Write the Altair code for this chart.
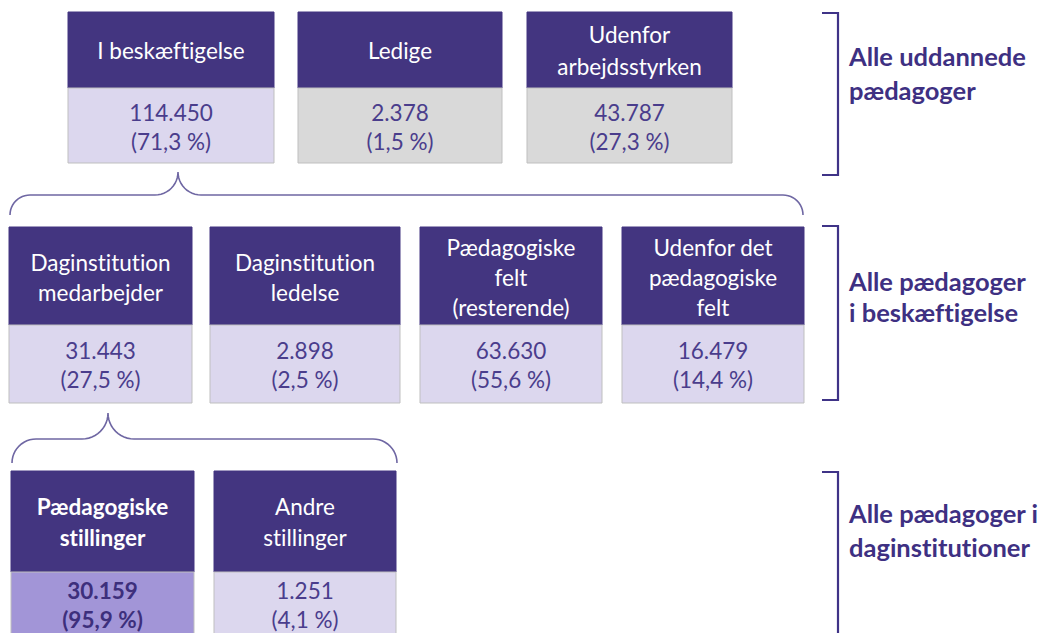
import math
import altair as alt
import pandas as pd

# ---------------- data ----------------
row1_titles = ["I beskæftigelse", "Ledige", "Udenfor\narbejdsstyrken"]
row1_counts = [114450, 2378, 43787]
row1_shares = [71.3, 1.5, 27.3]

row2_titles = ["Daginstitution\nmedarbejder", "Daginstitution\nledelse",
               "Pædagogiske\nfelt\n(resterende)", "Udenfor det\npædagogiske\nfelt"]
row2_counts = [31443, 2898, 63630, 16479]
row2_shares = [27.5, 2.5, 55.6, 14.4]

row3_titles = ["Pædagogiske\nstillinger", "Andre\nstillinger"]
row3_counts = [30159, 1251]
row3_shares = [95.9, 4.1]

group_labels = ["Alle uddannede\npædagoger", "Alle pædagoger\ni beskæftigelse",
                "Alle pædagoger i\ndaginstitutioner"]

# ---------------- style / layout ----------------
HEAD = "#433580"
LIGHT = "#DCD7EE"
GRAY = "#D9D9D9"
STRONG = "#A295D7"
NUMCOL = "#4A3D8C"
BRACE = "#6F67A3"
BRACKET = "#3F3387"
FONT = "Lato"
ZWNJ = "\u200c"

rows = [
    dict(titles=row1_titles, counts=row1_counts, shares=row1_shares,
         xs=[(68, 274), (298, 502), (527, 732)], head=(12, 88), body=(88, 163),
         hc=52, hlh=32, bc=128, blh=29, fills=[LIGHT, GRAY, GRAY], bold=[False] * 3),
    dict(titles=row2_titles, counts=row2_counts, shares=row2_shares,
         xs=[(9, 192), (210, 400), (420, 602), (622, 804)], head=(227, 325), body=(325, 403),
         hc=279, hlh=30, bc=366, blh=29, fills=[LIGHT] * 4, bold=[False] * 4),
    dict(titles=row3_titles, counts=row3_counts, shares=row3_shares,
         xs=[(11, 194), (214, 396)], head=(471, 572), body=(572, 660),
         hc=523, hlh=31, bc=606, blh=29, fills=[STRONG, LIGHT], bold=[True, False]),
]

braces = [  # x0, x1, tip x, end y, mid y, tip y
    (10, 803, 178, 215, 195, 172),
    (12, 397, 108, 463, 439, 413),
]
brackets = [(13, 175), (226, 400), (472, 660)]
label_pos = [(849, 75, 34), (849, 298, 31), (849, 532, 34)]


def fmt_count(n):
    return f"{n:,}".replace(",", ".")


def fmt_share(s):
    return "(" + f"{s:.1f}".replace(".", ",") + " %)"


def no_lig(s):
    # keep letters from being merged into ligatures by the font
    for a, b in (("t", "i"), ("f", "t"), ("f", "i"), ("f", "l")):
        s = s.replace(a + b, a + ZWNJ + b)
    return s


rects, texts = [], []
for r in rows:
    for i, (x0, x1) in enumerate(r["xs"]):
        rects.append(dict(x=x0, x2=x1, y=r["head"][0], y2=r["head"][1], fill=HEAD, stroke=HEAD))
        rects.append(dict(x=x0, x2=x1, y=r["body"][0], y2=r["body"][1], fill=r["fills"][i], stroke="#BFBFBF"))
        cx = (x0 + x1) / 2
        lines = r["titles"][i].split("\n")
        n = len(lines)
        for k, ln in enumerate(lines):
            texts.append(dict(x=cx, y=r["hc"] + (k - (n - 1) / 2) * r["hlh"], text=no_lig(ln),
                              color="#FFFFFF", bold=r["bold"][i], kind="head"))
        body_lines = [fmt_count(r["counts"][i]), fmt_share(r["shares"][i])]
        for k, ln in enumerate(body_lines):
            texts.append(dict(x=cx, y=r["bc"] + (k - 0.5) * r["blh"], text=ln,
                              color="#3D2F7C" if r["bold"][i] else NUMCOL, bold=r["bold"][i], kind="body"))

rect_df = pd.DataFrame(rects)
text_df = pd.DataFrame(texts)

lab = []
for (lx, ly, lh), t in zip(label_pos, group_labels):
    ls = t.split("\n")
    for k, ln in enumerate(ls):
        lab.append(dict(x=lx, y=ly + (k - (len(ls) - 1) / 2) * lh, text=no_lig(ln)))
lab_df = pd.DataFrame(lab)


def arc(cx, cy, r, a0, a1, n=12):
    return [(cx + r * math.cos(a0 + (a1 - a0) * j / n), cy - r * math.sin(a0 + (a1 - a0) * j / n))
            for j in range(n + 1)]


path = []
for bi, (x0, x1, xt, ye, ym, yt) in enumerate(braces):
    r1 = ye - ym
    r2 = ym - yt
    pts = []
    pts += arc(x0 + r1, ye, r1, math.pi, math.pi / 2)
    pts += arc(xt - r2, yt, r2, -math.pi / 2, 0)
    pts += arc(xt + r2, yt, r2, math.pi, 1.5 * math.pi)
    pts += arc(x1 - r1, ye, r1, math.pi / 2, 0)
    for j, (px, py) in enumerate(pts):
        path.append(dict(x=px, y=py, id=f"b{bi}", o=j))
brace_df = pd.DataFrame(path)

bk = []
for bi, (t, b) in enumerate(brackets):
    for j, (px, py) in enumerate([(822, t), (838, t), (838, b), (822, b)]):
        bk.append(dict(x=px, y=py, id=f"k{bi}", o=j))
bk_df = pd.DataFrame(bk)

xs = alt.Scale(domain=[8, 1043], nice=False, zero=False)
ys = alt.Scale(domain=[8, 633], nice=False, zero=False, reverse=True)
X = lambda f="x": alt.X(f"{f}:Q", scale=xs, axis=None)
Y = lambda f="y": alt.Y(f"{f}:Q", scale=ys, axis=None)

boxes = alt.Chart(rect_df).mark_rect(strokeWidth=1, clip=True).encode(
    x=X(), x2="x2:Q", y=Y(), y2="y2:Q",
    fill=alt.Fill("fill:N", scale=None), stroke=alt.Stroke("stroke:N", scale=None))


def text_layer(df, size, bold):
    kw = dict(font=FONT, fontSize=size, baseline="middle", align="center")
    if bold:
        kw["fontWeight"] = "bold"
    return alt.Chart(df).mark_text(**kw).encode(
        x=X(), y=Y(), text="text:N", color=alt.Color("color:N", scale=None))


head_n = text_df[(text_df.kind == "head") & (~text_df.bold)]
head_b = text_df[(text_df.kind == "head") & (text_df.bold)]
body_n = text_df[(text_df.kind == "body") & (~text_df.bold)]
body_b = text_df[(text_df.kind == "body") & (text_df.bold)]

brace_lines = alt.Chart(brace_df).mark_line(color=BRACE, strokeWidth=1.6).encode(
    x=X(), y=Y(), detail="id:N", order="o:Q")
bracket_lines = alt.Chart(bk_df).mark_line(color=BRACKET, strokeWidth=2.2, clip=True).encode(
    x=X(), y=Y(), detail="id:N", order="o:Q")
labels = alt.Chart(lab_df).mark_text(
    font=FONT, fontSize=25.5, fontWeight="bold", baseline="middle", align="left", color="#3E3082").encode(
    x=X(), y=Y(), text="text:N")

chart = alt.layer(
    boxes, brace_lines, bracket_lines,
    text_layer(head_n, 22.5, False), text_layer(head_b, 22.5, True),
    text_layer(body_n, 22.5, False), text_layer(body_b, 22.5, True),
    labels,
).properties(
    width=1035, height=625, padding=0,
    autosize=alt.AutoSizeParams(type="none"),
).configure_view(stroke=None)

chart.save("out.html", embed_options={"renderer": "svg", "actions": False})
